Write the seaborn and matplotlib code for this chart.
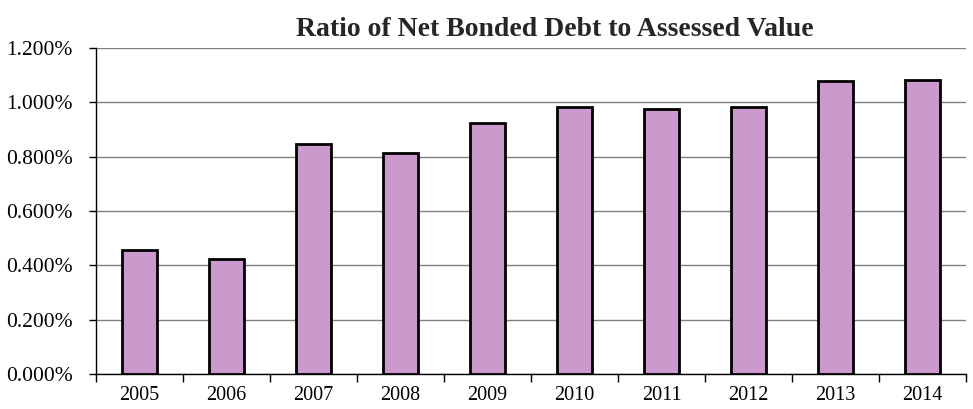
import matplotlib
matplotlib.use("Agg")
import matplotlib.pyplot as plt
from matplotlib.ticker import FuncFormatter, FixedLocator
import seaborn as sns
import pandas as pd

# Chart data
years = ["2005", "2006", "2007", "2008", "2009", "2010", "2011", "2012", "2013", "2014"]
ratio_pct = [0.455, 0.422, 0.847, 0.813, 0.924, 0.984, 0.977, 0.982, 1.080, 1.083]

df = pd.DataFrame({"year": years, "ratio": ratio_pct})

sns.set_style("white")
plt.rcParams['font.family'] = ['Liberation Serif', 'DejaVu Serif']

fig = plt.figure(figsize=(9.73, 4.09), dpi=100)
ax = fig.add_axes([96 / 973, 1 - 374 / 409, 870 / 973, 326 / 409])

sns.barplot(data=df, x="year", y="ratio", color="#CC99CC", saturation=1,
            width=0.4, edgecolor="black", linewidth=2, ax=ax, zorder=3)

ax.set_ylim(0, 1.2)
ax.set_xlim(-0.5, len(years) - 0.5)
ax.set_yticks([0, 0.2, 0.4, 0.6, 0.8, 1.0, 1.2])
ax.yaxis.set_major_formatter(FuncFormatter(lambda v, p: f"{v:.3f}%"))
ax.yaxis.grid(True, color="#808080", linewidth=1)
ax.set_axisbelow(True)

# tick marks between categories on the x axis
ax.xaxis.set_minor_locator(FixedLocator([i - 0.5 for i in range(len(years) + 1)]))
ax.tick_params(axis="x", which="minor", length=6, width=1, color="black", direction="out", bottom=True)
ax.tick_params(axis="x", which="major", length=0, labelsize=14.5, pad=9, colors="black")
ax.tick_params(axis="y", which="major", length=5, width=1, color="black", left=True,
               labelsize=15.5, pad=12, colors="black")

for s in ["top", "right"]:
    ax.spines[s].set_visible(False)
for s in ["left", "bottom"]:
    ax.spines[s].set_color("black")
    ax.spines[s].set_linewidth(1)

ax.set_xlabel("")
ax.set_ylabel("")

fig.text(555 / 973, 1 - 30 / 409, "Ratio of Net Bonded Debt to Assessed Value",
         ha="center", va="center", fontsize=20, fontweight="bold")

fig.savefig("out.png", dpi=100)
